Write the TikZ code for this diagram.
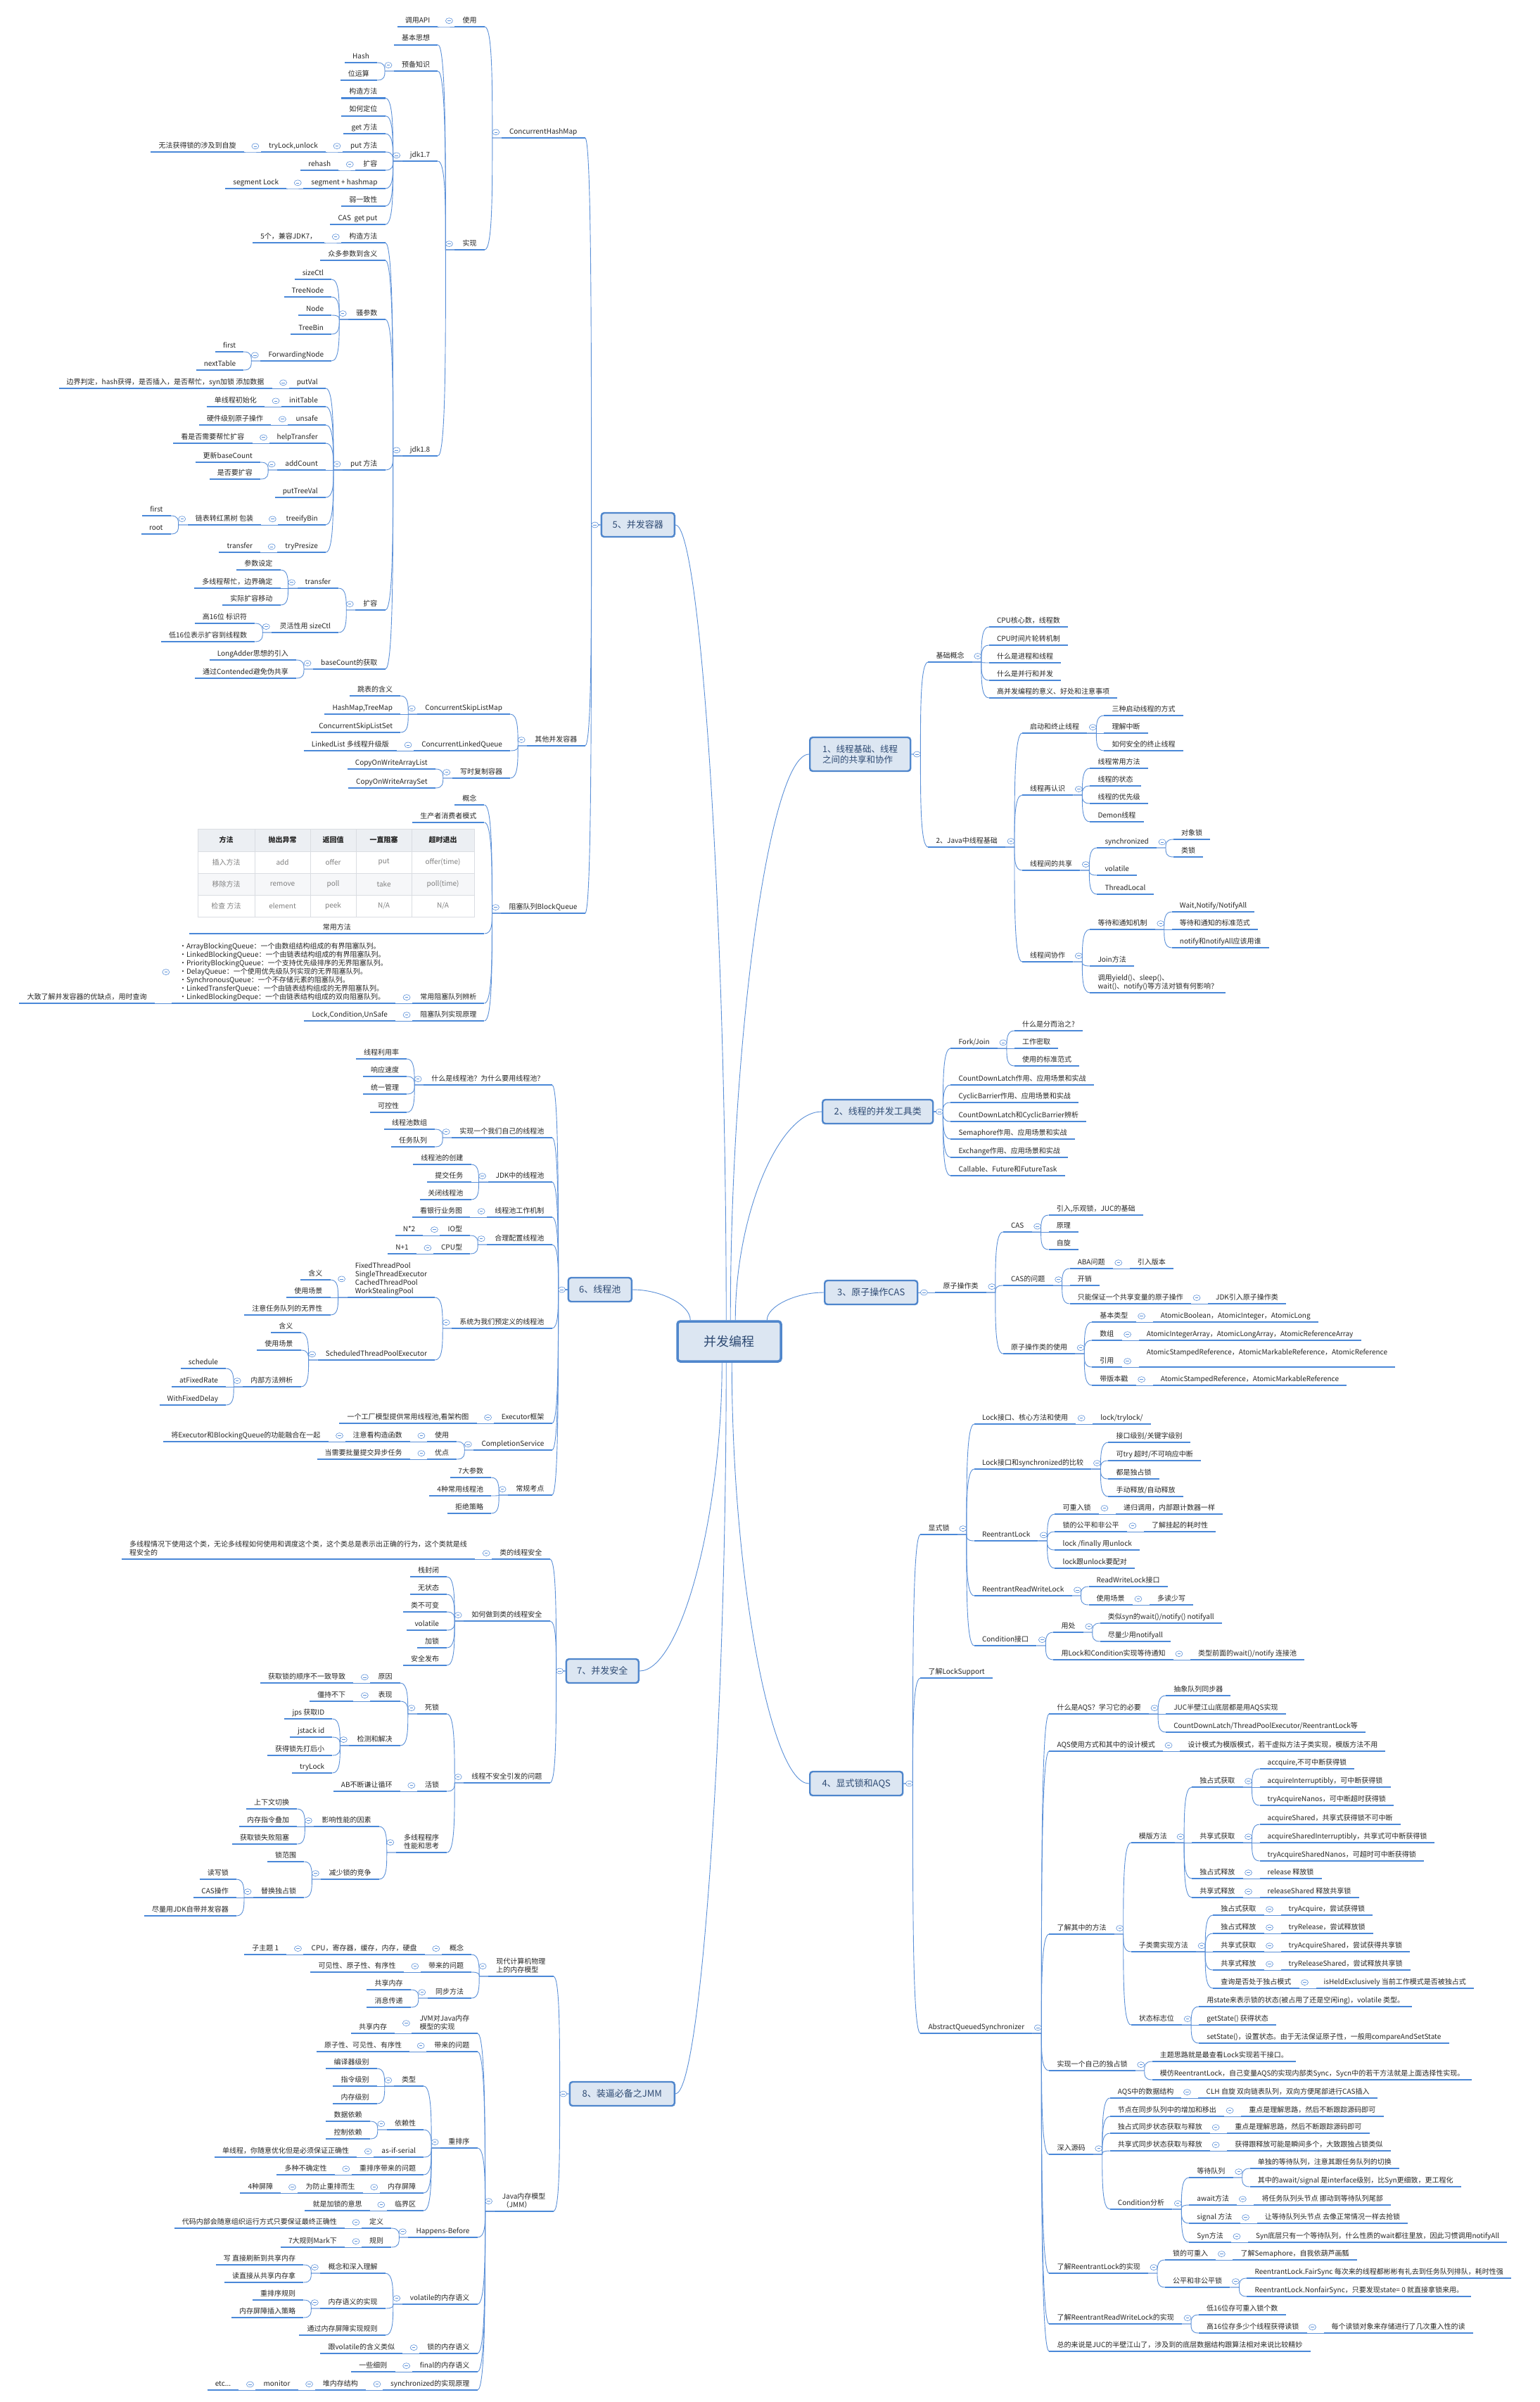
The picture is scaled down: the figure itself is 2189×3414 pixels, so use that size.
\documentclass[tikz,border=0pt]{standalone}
\usepackage{fontspec}
\setmainfont{Noto Sans CJK SC}
\usetikzlibrary{shapes.geometric,calc}
\definecolor{ulc}{HTML}{4A88D8}
\definecolor{cnc}{HTML}{5B90D8}
\definecolor{bxf}{HTML}{DCE6F2}
\definecolor{bxd}{HTML}{4F86CC}
\definecolor{bxt}{HTML}{2E4A73}
\definecolor{txc}{HTML}{262626}
\definecolor{tbh}{HTML}{ECEFF3}
\definecolor{tbg}{HTML}{F6F7F9}
\definecolor{tbl}{HTML}{DADDE2}
\newcommand\mystrut{\rule[-3pt]{0pt}{9pt}}
\newcommand\fs{\fontsize{10}{12}\selectfont}
\tikzset{
 x=1pt,y=-1pt,
 lf/.style={font=\fs,text=txc,inner xsep=11pt,inner ysep=2.5pt,execute at begin node=\mystrut},
 ml/.style={align=left},
 ul/.style={draw=ulc,line width=2.2pt},
 cn/.style={draw=cnc,line width=0.9pt},
 coll/.style={ellipse,draw=cnc,line width=0.6pt,fill=white,minimum width=10pt,minimum height=8pt,inner sep=0pt,
   path picture={\draw[cnc,line width=0.6pt] ([xshift=-2.2pt]path picture bounding box.center) -- ([xshift=2.2pt]path picture bounding box.center);}},
 bx/.style={draw=bxd,line width=2.4pt,fill=bxf,rounded corners=4pt,text=bxt,font=\fontsize{13}{16}\selectfont,inner xsep=9pt,minimum height=34pt},
 lbr/.style={to path={let \p1=(\tikztostart),\p2=(\tikztotarget) in -- (\x1-13pt,\y1) .. controls (\x1-13pt,{\y1+0.5*(\y2-\y1)}) and (\x1-13pt,\y2) .. (\tikztotarget)}},
 rbr/.style={to path={let \p1=(\tikztostart),\p2=(\tikztotarget) in -- (\x1+13pt,\y1) .. controls (\x1+13pt,{\y1+0.5*(\y2-\y1)}) and (\x1+13pt,\y2) .. (\tikztotarget)}},
 cbr/.style={to path={let \p1=(\tikztostart),\p2=(\tikztotarget) in .. controls (\x1,{\y1+0.5*(\y2-\y1)}) and ({\x2+0.5*(\x1-\x2)},\y2) .. (\tikztotarget)}},
 th/.style={font=\fontsize{10}{12}\selectfont\bfseries,text=txc},
 td/.style={font=\fontsize{10}{12}\selectfont,text=black!50},
}
% left child of a leaf
\newcommand\mkL[5][]{\path (#3.south west) ++(-24pt,0) coordinate (tmp);
 \node[lf,anchor=south east,#1] (#2) at (tmp |- 0,#4) {#5};
 \draw[ul] (#2.south west) -- (#2.south east);
 \draw[cn] (#3.south west) to[lbr] (#2.south east);}
% left child of a box
\newcommand\mkLB[5][]{\path (#3.west) ++(-22pt,0) coordinate (tmp);
 \node[lf,anchor=south east,#1] (#2) at (tmp |- 0,#4) {#5};
 \draw[ul] (#2.south west) -- (#2.south east);
 \draw[cn] (#3.west) to[lbr] (#2.south east);}
% right child of a leaf
\newcommand\mkR[5][]{\path (#3.south east) ++(24pt,0) coordinate (tmp);
 \node[lf,anchor=south west,#1] (#2) at (tmp |- 0,#4) {#5};
 \draw[ul] (#2.south west) -- (#2.south east);
 \draw[cn] (#3.south east) to[rbr] (#2.south west);}
% right child of a box
\newcommand\mkRB[5][]{\path (#3.east) ++(24pt,0) coordinate (tmp);
 \node[lf,anchor=south west,#1] (#2) at (tmp |- 0,#4) {#5};
 \draw[ul] (#2.south west) -- (#2.south east);
 \draw[cn] (#3.east) to[rbr] (#2.south west);}
\newcommand\ccL[1]{\node[coll] (#1-c) at ([xshift=-8pt]#1.west) {};}
\newcommand\ccR[1]{\node[coll] (#1-c) at ([xshift=8pt]#1.east) {};}
\begin{document}
\begin{tikzpicture}
\fill[white] (0,0) rectangle (2189,3414);
\useasboundingbox (0,0) rectangle (2189,3414);

% ---------- centre and main boxes
\node[bx,minimum width=147pt,minimum height=57pt,line width=3.5pt,font=\fontsize{18}{22}\selectfont] (c) at (1036.5,1906.5) {并发编程};
\node[bx,anchor=east,minimum width=104pt] (b5) at (960,746) {5、并发容器};
\node[bx,anchor=east,minimum width=90pt] (b6) at (899,1833) {6、线程池};
\node[bx,anchor=east,minimum width=103pt] (b7) at (909,2375) {7、并发安全};
\node[bx,anchor=east,minimum width=149pt] (b8) at (960,2976) {8、装逼必备之JMM};
\node[bx,anchor=west,minimum width=143pt,minimum height=48pt,align=left,font=\fontsize{12.5}{14.5}\selectfont] (b1) at (1150,1072) {1、线程基础、线程\\之间的共享和协作};
\node[bx,anchor=west,minimum width=157pt] (b2) at (1168,1580) {2、线程的并发工具类};
\node[bx,anchor=west,minimum width=132pt] (b3) at (1171,1837) {3、原子操作CAS};
\node[bx,anchor=west,minimum width=132pt] (b4) at (1150,2535) {4、显式锁和AQS};

\coordinate (s5) at ($(c.north west)+(71,0)$);
\coordinate (s6) at ($(c.north west)+(20,0)$);
\coordinate (s7) at ($(c.south west)+(65,0)$);
\coordinate (s8) at ($(c.south west)+(71,0)$);
\coordinate (s1) at ($(c.north west)+(77,0)$);
\coordinate (s2) at ($(c.north west)+(84,0)$);
\coordinate (s3) at ($(c.north west)+(129,0)$);
\coordinate (s4) at ($(c.south west)+(79,0)$);
\draw[cn] (s5) to[cbr] (b5.east);
\draw[cn] (s6) to[cbr] (b6.east);
\draw[cn] (s7) to[cbr] (b7.east);
\draw[cn] (s8) to[cbr] (b8.east);
\draw[cn] (s1) to[cbr] (b1.west);
\draw[cn] (s2) to[cbr] (b2.west);
\draw[cn] (s3) to[cbr] (b3.west);
\draw[cn] (s4) to[cbr] (b4.west);

% ---------- 5 并发容器
\mkLB{chm}{b5}{196}{ConcurrentHashMap}
\mkL{use}{chm}{38}{使用}
\mkL{api}{use}{38}{调用API}
\mkL{impl}{chm}{355}{实现}
\mkL{basic}{impl}{63.6}{基本思想}
\mkL{prep}{impl}{101}{预备知识}
\mkL{hash}{prep}{89}{Hash}
\mkL{bitop}{prep}{114}{位运算}
\mkL{jA}{impl}{229}{jdk1.7}
\mkL{jAa}{jA}{139.5}{构造方法}
\mkL{jAb}{jA}{164.6}{如何定位}
\mkL{jAc}{jA}{190}{get 方法}
\mkL{jAd}{jA}{216}{put 方法}
\mkL{jAdA}{jAd}{216}{tryLock,unlock}
\mkL{jAdB}{jAdA}{216}{无法获得锁的涉及到自旋}
\mkL{jAe}{jA}{242}{扩容}
\mkL{jAeA}{jAe}{242}{rehash}
\mkL{jAf}{jA}{268}{segment + hashmap}
\mkL{jAfA}{jAf}{268}{segment Lock}
\mkL{jAg}{jA}{293}{弱一致性}
\mkL{jAh}{jA}{319}{CAS~ get put}
\mkL{jB}{impl}{648}{jdk1.8}
\mkL{jBa}{jB}{345}{构造方法}
\mkL{jBaA}{jBa}{345}{5个，兼容JDK7，}
\mkL{jBb}{jB}{370}{众多参数到含义}
\mkL{jBc}{jB}{454}{骚参数}
\mkL{jBcA}{jBc}{397}{sizeCtl}
\mkL{jBcB}{jBc}{422}{TreeNode}
\mkL{jBcC}{jBc}{448}{Node}
\mkL{jBcD}{jBc}{475}{TreeBin}
\mkL{jBcE}{jBc}{513}{ForwardingNode}
\mkL{jBcEa}{jBcE}{500}{first}
\mkL{jBcEb}{jBcE}{526}{nextTable}
\mkL{jBd}{jB}{668}{put 方法}
\mkL{pA}{jBd}{552}{putVal}
\mkL{pAa}{pA}{552}{边界判定，hash获得，是否插入，是否帮忙，syn加锁 添加数据}
\mkL{pB}{jBd}{578}{initTable}
\mkL{pBa}{pB}{578}{单线程初始化}
\mkL{pC}{jBd}{604}{unsafe}
\mkL{pCa}{pC}{604}{硬件级别原子操作}
\mkL{pD}{jBd}{630}{helpTransfer}
\mkL{pDa}{pD}{630}{看是否需要帮忙扩容}
\mkL{pE}{jBd}{668}{addCount}
\mkL{pEa}{pE}{657}{更新baseCount}
\mkL{pEb}{pE}{681}{是否要扩容}
\mkL{pF}{jBd}{707}{putTreeVal}
\mkL{pG}{jBd}{746}{treeifyBin}
\mkL{pGa}{pG}{746}{链表转红黑树 包装}
\mkL{pGaA}{pGa}{733}{first}
\mkL{pGaB}{pGa}{759}{root}
\mkL{pH}{jBd}{785}{tryPresize}
\mkL{pHa}{pH}{785}{transfer}
\mkL{jBe}{jB}{867}{扩容}
\mkL{eA}{jBe}{836}{transfer}
\mkL{eAa}{eA}{810}{参数设定}
\mkL{eAb}{eA}{836}{多线程帮忙，边界确定}
\mkL{eAc}{eA}{860}{实际扩容移动}
\mkL{eB}{jBe}{899}{灵活性用 sizeCtl}
\mkL{eBa}{eB}{886}{高16位 标识符}
\mkL{eBb}{eB}{912}{低16位表示扩容到线程数}
\mkL{jBf}{jB}{951}{baseCount的获取}
\mkL{fA}{jBf}{938}{LongAdder思想的引入}
\mkL{fB}{jBf}{964}{通过Contended避免伪共享}
\mkLB{oth}{b5}{1060}{其他并发容器}
\mkL{oA}{oth}{1015}{ConcurrentSkipListMap}
\mkL{oAa}{oA}{989}{跳表的含义}
\mkL{oAb}{oA}{1015}{HashMap,TreeMap}
\mkL{oAc}{oA}{1041}{ConcurrentSkipListSet}
\mkL{oB}{oth}{1067}{ConcurrentLinkedQueue}
\mkL{oBa}{oB}{1067}{LinkedList 多线程升级版}
\mkL{oC}{oth}{1106}{写时复制容器}
\mkL{oCa}{oC}{1093}{CopyOnWriteArrayList}
\mkL{oCb}{oC}{1120}{CopyOnWriteArraySet}
\mkLB{bq}{b5}{1298}{阻塞队列BlockQueue}
\mkL{qA}{bq}{1144}{概念}
\mkL{qB}{bq}{1169}{生产者消费者模式}
\mkL[minimum width=419pt]{qC}{bq}{1327}{常用方法}
\mkL{qD}{bq}{1426}{常用阻塞队列辨析}
\mkL[ml]{qDa}{qD}{1426}{·ArrayBlockingQueue：一个由数组结构组成的有界阻塞队列。\\·LinkedBlockingQueue：一个由链表结构组成的有界阻塞队列。\\·PriorityBlockingQueue：一个支持优先级排序的无界阻塞队列。\\·DelayQueue：一个使用优先级队列实现的无界阻塞队列。\\·SynchronousQueue：一个不存储元素的阻塞队列。\\·LinkedTransferQueue：一个由链表结构组成的无界阻塞队列。\\·LinkedBlockingDeque：一个由链表结构组成的双向阻塞队列。}
\mkL{qDaA}{qDa}{1426}{大致了解并发容器的优缺点，用时查询}
\mkL{qE}{bq}{1451}{阻塞队列实现原理}
\mkL{qEa}{qE}{1451}{Lock,Condition,UnSafe}

% table of queue methods
\begin{scope}[shift={(qC.south west)}]
 \fill[tbh] (12,-149) rectangle (405,-117);
 \fill[tbg] (12,-86) rectangle (405,-55);
 \draw[tbl,line width=0.8pt] (12,-149) rectangle (405,-24);
 \foreach \yy in {-117,-86,-55} \draw[tbl,line width=0.8pt] (12,\yy) -- (405,\yy);
 \foreach \xx in {93,172,237,316} \draw[tbl,line width=0.8pt] (\xx,-149) -- (\xx,-24);
 \node[th] (tbA1) at (52.5,-133) {方法};
 \node[th] (tbA2) at (132.5,-133) {抛出异常};
 \node[th] (tbA3) at (204.5,-133) {返回值};
 \node[th] (tbA4) at (276.5,-133) {一直阻塞};
 \node[th] (tbA5) at (360.5,-133) {超时退出};
 \node[td] (tbB1) at (52.5,-101.5) {插入方法};
 \node[td] (tbB2) at (132.5,-101.5) {add};
 \node[td] (tbB3) at (204.5,-101.5) {offer};
 \node[td] (tbB4) at (276.5,-101.5) {put};
 \node[td] (tbB5) at (360.5,-101.5) {offer(time)};
 \node[td] (tbC1) at (52.5,-70.5) {移除方法};
 \node[td] (tbC2) at (132.5,-70.5) {remove};
 \node[td] (tbC3) at (204.5,-70.5) {poll};
 \node[td] (tbC4) at (276.5,-70.5) {take};
 \node[td] (tbC5) at (360.5,-70.5) {poll(time)};
 \node[td] (tbD1) at (52.5,-39.5) {检查 方法};
 \node[td] (tbD2) at (132.5,-39.5) {element};
 \node[td] (tbD3) at (204.5,-39.5) {peek};
 \node[td] (tbD4) at (276.5,-39.5) {N/A};
 \node[td] (tbD5) at (360.5,-39.5) {N/A};
\end{scope}

% ---------- 6 线程池
\mkLB{tA}{b6}{1542}{什么是线程池？为什么要用线程池？}
\mkL{tAa}{tA}{1505}{线程利用率}
\mkL{tAb}{tA}{1530}{响应速度}
\mkL{tAc}{tA}{1555}{统一管理}
\mkL{tAd}{tA}{1581}{可控性}
\mkLB{tB}{b6}{1617}{实现一个我们自己的线程池}
\mkL{tBa}{tB}{1605}{线程池数组}
\mkL{tBb}{tB}{1630}{任务队列}
\mkLB{tC}{b6}{1680}{JDK中的线程池}
\mkL{tCa}{tC}{1655}{线程池的创建}
\mkL{tCb}{tC}{1680}{提交任务}
\mkL{tCc}{tC}{1705}{关闭线程池}
\mkLB{tD}{b6}{1730}{线程池工作机制}
\mkL{tDa}{tD}{1730}{看银行业务图}
\mkLB{tE}{b6}{1769}{合理配置线程池}
\mkL{tEa}{tE}{1756}{IO型}
\mkL{tEaA}{tEa}{1756}{N*2}
\mkL{tEb}{tE}{1782}{CPU型}
\mkL{tEbA}{tEb}{1782}{N+1}
\mkLB{tF}{b6}{1888}{系统为我们预定义的线程池}
\mkL[ml]{tFa}{tF}{1844}{FixedThreadPool\\SingleThreadExecutor\\CachedThreadPool\\WorkStealingPool}
\mkL{tFaA}{tFa}{1819}{含义}
\mkL{tFaB}{tFa}{1844}{使用场景}
\mkL{tFaC}{tFa}{1869}{注意任务队列的无界性}
\mkL{tFb}{tF}{1933}{ScheduledThreadPoolExecutor}
\mkL{tFbA}{tFb}{1894}{含义}
\mkL{tFbB}{tFb}{1919}{使用场景}
\mkL{tFbC}{tFb}{1971}{内部方法辨析}
\mkL{tFbCa}{tFbC}{1945}{schedule}
\mkL{tFbCb}{tFbC}{1971}{atFixedRate}
\mkL{tFbCc}{tFbC}{1997}{WithFixedDelay}
\mkLB{tG}{b6}{2023}{Executor框架}
\mkL{tGa}{tG}{2023}{一个工厂模型提供常用线程池,看架构图}
\mkLB{tH}{b6}{2061}{CompletionService}
\mkL{tHa}{tH}{2049}{使用}
\mkL{tHaA}{tHa}{2049}{注意看构造函数}
\mkL{tHaB}{tHaA}{2049}{将Executor和BlockingQueue的功能融合在一起}
\mkL{tHb}{tH}{2074}{优点}
\mkL{tHbA}{tHb}{2074}{当需要批量提交异步任务}
\mkLB{tI}{b6}{2125}{常规考点}
\mkL{tIa}{tI}{2100}{7大参数}
\mkL{tIb}{tI}{2126}{4种常用线程池}
\mkL{tIc}{tI}{2151}{拒绝策略}

% ---------- 7 并发安全
\mkLB{sA}{b7}{2216}{类的线程安全}
\mkL[ml]{sAa}{sA}{2216}{多线程情况下使用这个类，无论多线程如何使用和调度这个类，这个类总是表示出正确的行为，这个类就是线\\程安全的}
\mkLB{sB}{b7}{2304}{如何做到类的线程安全}
\mkL{sBa}{sB}{2241}{栈封闭}
\mkL{sBb}{sB}{2266}{无状态}
\mkL{sBc}{sB}{2291}{类不可变}
\mkL{sBd}{sB}{2317}{volatile}
\mkL{sBe}{sB}{2342}{加锁}
\mkL{sBf}{sB}{2367}{安全发布}
\mkLB{sC}{b7}{2534}{线程不安全引发的问题}
\mkL{sCa}{sC}{2436}{死锁}
\mkL{sCaA}{sCa}{2392}{原因}
\mkL{sCaAa}{sCaA}{2392}{获取锁的顺序不一致导致}
\mkL{sCaB}{sCa}{2418}{表现}
\mkL{sCaBa}{sCaB}{2418}{僵持不下}
\mkL{sCaC}{sCa}{2481}{检测和解决}
\mkL{sCaCa}{sCaC}{2443}{jps 获取ID}
\mkL{sCaCb}{sCaC}{2469}{jstack id}
\mkL{sCaCc}{sCaC}{2495}{获得锁先打后小}
\mkL{sCaCd}{sCaC}{2520}{tryLock}
\mkL{sCb}{sC}{2546}{活锁}
\mkL{sCbA}{sCb}{2546}{AB不断谦让循环}
\mkL[ml]{sCc}{sC}{2633}{多线程程序\\性能和思考}
\mkL{sCcA}{sCc}{2596}{影响性能的因素}
\mkL{sCcAa}{sCcA}{2571}{上下文切换}
\mkL{sCcAb}{sCcA}{2596}{内存指令叠加}
\mkL{sCcAc}{sCcA}{2621}{获取锁失败阻塞}
\mkL{sCcB}{sCc}{2671}{减少锁的竞争}
\mkL{sCcBa}{sCcB}{2646}{锁范围}
\mkL{sCcBb}{sCcB}{2697}{替换独占锁}
\mkL{sCcBba}{sCcBb}{2671}{读写锁}
\mkL{sCcBbb}{sCcBb}{2697}{CAS操作}
\mkL{sCcBbc}{sCcBb}{2723}{尽量用JDK自带并发容器}

% ---------- 8 JMM
\mkLB[ml]{mA}{b8}{2809}{现代计算机物理\\上的内存模型}
\mkL{mAa}{mA}{2778}{概念}
\mkL{mAaA}{mAa}{2778}{CPU，寄存器，缓存，内存，硬盘}
\mkL{mAaB}{mAaA}{2778}{子主题 1}
\mkL{mAb}{mA}{2803}{带来的问题}
\mkL{mAbA}{mAb}{2803}{可见性、原子性、有序性}
\mkL{mAc}{mA}{2840}{同步方法}
\mkL{mAcA}{mAc}{2828}{共享内存}
\mkL{mAcB}{mAc}{2853}{消息传递}
\mkLB[ml]{mB}{b8}{3143}{Java内存模型\\（JMM）}
\mkL[ml]{mBa}{mB}{2890}{JVM对Java内存\\模型的实现}
\mkL{mBaA}{mBa}{2890}{共享内存}
\mkL{mBb}{mB}{2916}{带来的问题}
\mkL{mBbA}{mBb}{2916}{原子性、可见性、有序性}
\mkL{mBc}{mB}{3053}{重排序}
\mkL{mBcA}{mBc}{2965}{类型}
\mkL{mBcAa}{mBcA}{2940}{编译器级别}
\mkL{mBcAb}{mBcA}{2965}{指令级别}
\mkL{mBcAc}{mBcA}{2990}{内存级别}
\mkL{mBcB}{mBc}{3027}{依赖性}
\mkL{mBcBa}{mBcB}{3015}{数据依赖}
\mkL{mBcBb}{mBcB}{3040}{控制依赖}
\mkL{mBcC}{mBc}{3066}{as-if-serial}
\mkL{mBcCa}{mBcC}{3066}{单线程，你随意优化但是必须保证正确性}
\mkL{mBcD}{mBc}{3091}{重排序带来的问题}
\mkL{mBcDa}{mBcD}{3091}{多种不确定性}
\mkL{mBcE}{mBc}{3117}{内存屏障}
\mkL{mBcEa}{mBcE}{3117}{为防止重排而生}
\mkL{mBcEb}{mBcEa}{3117}{4种屏障}
\mkL{mBcF}{mBc}{3142}{临界区}
\mkL{mBcFa}{mBcF}{3142}{就是加锁的意思}
\mkL{mBd}{mB}{3180}{Happens-Before}
\mkL{mBdA}{mBd}{3167}{定义}
\mkL{mBdAa}{mBdA}{3167}{代码内部会随意组织运行方式只要保证最终正确性}
\mkL{mBdB}{mBd}{3194}{规则}
\mkL{mBdBa}{mBdB}{3194}{7大规则Mark下}
\mkL{mBe}{mB}{3275}{volatile的内存语义}
\mkL{mBeA}{mBe}{3231}{概念和深入理解}
\mkL{mBeAa}{mBeA}{3219}{写 直接刷新到共享内存}
\mkL{mBeAb}{mBeA}{3244}{读直接从共享内存拿}
\mkL{mBeB}{mBe}{3281}{内存语义的实现}
\mkL{mBeBa}{mBeB}{3269}{重排序规则}
\mkL{mBeBb}{mBeB}{3294}{内存屏障插入策略}
\mkL{mBeC}{mBe}{3319}{通过内存屏障实现规则}
\mkL{mBf}{mB}{3345}{锁的内存语义}
\mkL{mBfA}{mBf}{3345}{跟volatile的含义类似}
\mkL{mBg}{mB}{3371}{final的内存语义}
\mkL{mBgA}{mBg}{3371}{一些细则}
\mkL{mBh}{mB}{3397}{synchronized的实现原理}
\mkL{mBhA}{mBh}{3397}{堆内存结构}
\mkL{mBhB}{mBhA}{3397}{monitor}
\mkL{mBhC}{mBhB}{3397}{etc...}

% ---------- 1 线程基础
\mkRB{rA}{b1}{941}{基础概念}
\mkR{rAa}{rA}{891}{CPU核心数，线程数}
\mkR{rAb}{rA}{917}{CPU时间片轮转机制}
\mkR{rAc}{rA}{942}{什么是进程和线程}
\mkR{rAd}{rA}{967}{什么是并行和并发}
\mkR{rAe}{rA}{992}{高并发编程的意义、好处和注意事项}
\mkRB{rB}{b1}{1204}{2、Java中线程基础}
\mkR{rBa}{rB}{1042}{启动和终止线程}
\mkR{rBaA}{rBa}{1017}{三种启动线程的方式}
\mkR{rBaB}{rBa}{1042}{理解中断}
\mkR{rBaC}{rBa}{1067}{如何安全的终止线程}
\mkR{rBb}{rB}{1130}{线程再认识}
\mkR{rBbA}{rBb}{1092}{线程常用方法}
\mkR{rBbB}{rBb}{1117}{线程的状态}
\mkR{rBbC}{rBb}{1142}{线程的优先级}
\mkR{rBbD}{rBb}{1168}{Demon线程}
\mkR{rBc}{rB}{1237}{线程间的共享}
\mkR{rBcA}{rBc}{1205}{synchronized}
\mkR{rBcAa}{rBcA}{1193}{对象锁}
\mkR{rBcAb}{rBcA}{1218}{类锁}
\mkR{rBcB}{rBc}{1244}{volatile}
\mkR{rBcC}{rBc}{1271}{ThreadLocal}
\mkR{rBd}{rB}{1367}{线程间协作}
\mkR{rBdA}{rBd}{1321}{等待和通知机制}
\mkR{rBdAa}{rBdA}{1296}{Wait,Notify/NotifyAll}
\mkR{rBdAb}{rBdA}{1321}{等待和通知的标准范式}
\mkR{rBdAc}{rBdA}{1347}{notify和notifyAll应该用谁}
\mkR{rBdB}{rBd}{1373}{Join方法}
\mkR[ml]{rBdC}{rBd}{1411}{调用yield()、sleep()、\\wait()、notify()等方法对锁有何影响？}

% ---------- 2 并发工具类
\mkRB{uA}{b2}{1490}{Fork/Join}
\mkR{uAa}{uA}{1465}{什么是分而治之?}
\mkR{uAb}{uA}{1490}{工作密取}
\mkR{uAc}{uA}{1515}{使用的标准范式}
\mkRB{uB}{b2}{1542}{CountDownLatch作用、应用场景和实战}
\mkRB{uC}{b2}{1567}{CyclicBarrier作用、应用场景和实战}
\mkRB{uD}{b2}{1594}{CountDownLatch和CyclicBarrier辨析}
\mkRB{uE}{b2}{1619}{Semaphore作用、应用场景和实战}
\mkRB{uF}{b2}{1645}{Exchange作用、应用场景和实战}
\mkRB{uG}{b2}{1671}{Callable、Future和FutureTask}

% ---------- 3 CAS
\mkRB{vA}{b3}{1837}{原子操作类}
\mkR{vAa}{vA}{1751}{CAS}
\mkR{vAaA}{vAa}{1727}{引入,乐观锁，JUC的基础}
\mkR{vAaB}{vAa}{1751}{原理}
\mkR{vAaC}{vAa}{1776}{自旋}
\mkR{vAb}{vA}{1827}{CAS的问题}
\mkR{vAbA}{vAb}{1803}{ABA问题}
\mkR{vAbAa}{vAbA}{1803}{引入版本}
\mkR{vAbB}{vAb}{1827}{开销}
\mkR{vAbC}{vAb}{1853}{只能保证一个共享变量的原子操作}
\mkR{vAbCa}{vAbC}{1853}{JDK引入原子操作类}
\mkR{vAc}{vA}{1924}{原子操作类的使用}
\mkR{vAcA}{vAc}{1879}{基本类型}
\mkR{vAcAa}{vAcA}{1879}{AtomicBoolean，AtomicInteger，AtomicLong}
\mkR{vAcB}{vAc}{1905}{数组}
\mkR{vAcBa}{vAcB}{1905}{AtomicIntegerArray，AtomicLongArray，AtomicReferenceArray}
\mkR{vAcC}{vAc}{1943}{引用}
\mkR[ml]{vAcCa}{vAcC}{1943}{AtomicStampedReference，AtomicMarkableReference，AtomicReference\\ \mbox{}}
\mkR{vAcD}{vAc}{1969}{带版本戳}
\mkR{vAcDa}{vAcD}{1969}{AtomicStampedReference，AtomicMarkableReference}

% ---------- 4 显式锁和AQS
\mkRB{wA}{b4}{2181}{显式锁}
\mkR{wAa}{wA}{2024}{Lock接口、核心方法和使用}
\mkR{wAaA}{wAa}{2024}{lock/trylock/}
\mkR{wAb}{wA}{2088}{Lock接口和synchronized的比较}
\mkR{wAbA}{wAb}{2050}{接口级别/关键字级别}
\mkR{wAbB}{wAb}{2076}{可try 超时/不可响应中断}
\mkR{wAbC}{wAb}{2102}{都是独占锁}
\mkR{wAbD}{wAb}{2127}{手动释放/自动释放}
\mkR{wAc}{wA}{2190}{ReentrantLock}
\mkR{wAcA}{wAc}{2152}{可重入锁}
\mkR{wAcAa}{wAcA}{2152}{递归调用，内部跟计数器一样}
\mkR{wAcB}{wAc}{2177}{锁的公平和非公平}
\mkR{wAcBa}{wAcB}{2177}{了解挂起的耗时性}
\mkR{wAcC}{wAc}{2203}{lock /finally 用unlock}
\mkR{wAcD}{wAc}{2229}{lock跟unlock要配对}
\mkR{wAd}{wA}{2268}{ReentrantReadWriteLock}
\mkR{wAdA}{wAd}{2255}{ReadWriteLock接口}
\mkR{wAdB}{wAd}{2281}{使用场景}
\mkR{wAdBa}{wAdB}{2281}{多读少写}
\mkR{wAe}{wA}{2339}{Condition接口}
\mkR{wAeA}{wAe}{2320}{用处}
\mkR{wAeAa}{wAeA}{2307}{类似syn的wait()/notify() notifyall}
\mkR{wAeAb}{wAeA}{2333}{尽量少用notifyall}
\mkR{wAeB}{wAe}{2359}{用Lock和Condition实现等待通知}
\mkR{wAeBa}{wAeB}{2359}{类型前面的wait()/notify 连接池}
\mkRB{wB}{b4}{2385}{了解LockSupport}
\mkRB{wC}{b4}{2890}{AbstractQueuedSynchronizer}
\mkR{wCa}{wC}{2436}{什么是AQS？学习它的必要}
\mkR{wCaA}{wCa}{2410}{抽象队列同步器}
\mkR{wCaB}{wCa}{2436}{JUC半壁江山底层都是用AQS实现}
\mkR{wCaC}{wCa}{2462}{CountDownLatch/ThreadPoolExecutor/ReentrantLock等}
\mkR{wCb}{wC}{2489}{AQS使用方式和其中的设计模式}
\mkR{wCbA}{wCb}{2489}{设计模式为模版模式，若干虚拟方法子类实现，模版方法不用}
\mkR{wCc}{wC}{2749}{了解其中的方法}
\mkR{wCcA}{wCc}{2619}{模版方法}
\mkR{wCcAa}{wCcA}{2540}{独占式获取}
\mkR{wCcAaA}{wCcAa}{2514}{accquire,不可中断获得锁}
\mkR{wCcAaB}{wCcAa}{2540}{acquireInterruptibly，可中断获得锁}
\mkR{wCcAaC}{wCcAa}{2566}{tryAcquireNanos，可中断超时获得锁}
\mkR{wCcAb}{wCcA}{2619}{共享式获取}
\mkR{wCcAbA}{wCcAb}{2593}{acquireShared，共享式获得锁不可中断}
\mkR{wCcAbB}{wCcAb}{2619}{acquireSharedInterruptibly，共享式可中断获得锁}
\mkR{wCcAbC}{wCcAb}{2645}{tryAcquireSharedNanos，可超时可中断获得锁}
\mkR{wCcAc}{wCcA}{2670}{独占式释放}
\mkR{wCcAcA}{wCcAc}{2670}{release 释放锁}
\mkR{wCcAd}{wCcA}{2697}{共享式释放}
\mkR{wCcAdA}{wCcAd}{2697}{releaseShared 释放共享锁}
\mkR{wCcB}{wCc}{2774}{子类需实现方法}
\mkR{wCcBa}{wCcB}{2722}{独占式获取}
\mkR{wCcBaA}{wCcBa}{2722}{tryAcquire，尝试获得锁}
\mkR{wCcBb}{wCcB}{2748}{独占式释放}
\mkR{wCcBbA}{wCcBb}{2748}{tryRelease，尝试释放锁}
\mkR{wCcBc}{wCcB}{2774}{共享式获取}
\mkR{wCcBcA}{wCcBc}{2774}{tryAcquireShared，尝试获得共享锁}
\mkR{wCcBd}{wCcB}{2800}{共享式释放}
\mkR{wCcBdA}{wCcBd}{2800}{tryReleaseShared，尝试释放共享锁}
\mkR{wCcBe}{wCcB}{2826}{查询是否处于独占模式}
\mkR{wCcBeA}{wCcBe}{2826}{isHeldExclusively 当前工作模式是否被独占式}
\mkR{wCcC}{wCc}{2878}{状态标志位}
\mkR{wCcCa}{wCcC}{2852}{用state来表示锁的状态(被占用了还是空闲ing)，volatile 类型。}
\mkR{wCcCb}{wCcC}{2878}{getState() 获得状态}
\mkR{wCcCc}{wCcC}{2904}{setState()，设置状态。由于无法保证原子性，一般用compareAndSetState}
\mkR{wCd}{wC}{2943}{实现一个自己的独占锁}
\mkR{wCdA}{wCd}{2930}{主题思路就是最查看Lock实现若干接口。}
\mkR{wCdB}{wCd}{2956}{模仿ReentrantLock，自己变量AQS的实现内部类Sync，Sycn中的若干方法就是上面选择性实现。}
\mkR{wCe}{wC}{3062}{深入源码}
\mkR{wCeA}{wCe}{2982}{AQS中的数据结构}
\mkR{wCeAa}{wCeA}{2982}{CLH 自旋 双向链表队列，双向方便尾部进行CAS插入}
\mkR{wCeB}{wCe}{3008}{节点在同步队列中的增加和移出}
\mkR{wCeBa}{wCeB}{3008}{重点是理解思路，然后不断跟踪源码即可}
\mkR{wCeC}{wCe}{3032}{独占式同步状态获取与释放}
\mkR{wCeCa}{wCeC}{3032}{重点是理解思路，然后不断跟踪源码即可}
\mkR{wCeD}{wCe}{3057}{共享式同步状态获取与释放}
\mkR{wCeDa}{wCeD}{3057}{获得跟释放可能是瞬间多个，大致跟独占锁类似}
\mkR{wCeE}{wCe}{3140}{Condition分析}
\mkR{wCeEa}{wCeE}{3095}{等待队列}
\mkR{wCeEaA}{wCeEa}{3082}{单独的等待队列，注意其跟任务队列的切换}
\mkR{wCeEaB}{wCeEa}{3108}{其中的await/signal 是interface级别，比Syn更细致，更工程化}
\mkR{wCeEb}{wCeE}{3134}{await方法}
\mkR{wCeEbA}{wCeEb}{3134}{将任务队列头节点 挪动到等待队列尾部}
\mkR{wCeEc}{wCeE}{3160}{signal 方法}
\mkR{wCeEcA}{wCeEc}{3160}{让等待队列头节点 去像正常情况一样去抢锁}
\mkR{wCeEd}{wCeE}{3187}{Syn方法}
\mkR{wCeEdA}{wCeEd}{3187}{Syn底层只有一个等待队列，什么性质的wait都往里放，因此习惯调用notifyAll}
\mkR{wCf}{wC}{3231}{了解ReentrantLock的实现}
\mkR{wCfA}{wCf}{3212}{锁的可重入}
\mkR{wCfAa}{wCfA}{3212}{了解Semaphore，自我依葫芦画瓢}
\mkR{wCfB}{wCf}{3251}{公平和非公平锁}
\mkR{wCfBa}{wCfB}{3238}{ReentrantLock.FairSync 每次来的线程都彬彬有礼去到任务队列排队，耗时性强}
\mkR{wCfBb}{wCfB}{3264}{ReentrantLock.NonfairSync，只要发现state= 0 就直接拿锁来用。}
\mkR{wCg}{wC}{3303}{了解ReentrantReadWriteLock的实现}
\mkR{wCgA}{wCg}{3290}{低16位存可重入锁个数}
\mkR{wCgB}{wCg}{3316}{高16位存多少个线程获得读锁}
\mkR{wCgBa}{wCgB}{3316}{每个读锁对象来存储进行了几次重入性的读}
\mkR{wCh}{wC}{3342}{总的来说是JUC的半壁江山了，涉及到的底层数据结构跟算法相对来说比较精妙}

% ---------- collapse markers
\foreach \n in {b5,b6,b7,b8,chm,use,impl,prep,jA,jAd,jAdA,jAe,jAf,jB,jBa,jBc,jBcE,jBd,pA,pB,pC,pD,pE,pG,pGa,pH,jBe,eA,eB,jBf,oth,oA,oB,oC,bq,qD,qDa,qE,
  tA,tB,tC,tD,tE,tEa,tEb,tF,tFa,tFb,tFbC,tG,tH,tHa,tHaA,tHb,tI,
  sA,sB,sC,sCa,sCaA,sCaB,sCaC,sCb,sCc,sCcA,sCcB,sCcBb,
  mA,mAa,mAaA,mAb,mAc,mB,mBa,mBb,mBc,mBcA,mBcB,mBcC,mBcD,mBcE,mBcEa,mBcF,mBd,mBdA,mBdB,mBe,mBeA,mBeB,mBf,mBg,mBh,mBhA,mBhB}
  {\ccL{\n}}
\foreach \n in {b1,b2,b3,b4,rA,rB,rBa,rBb,rBc,rBcA,rBd,rBdA,uA,vA,vAa,vAb,vAbA,vAbC,vAc,vAcA,vAcB,vAcC,vAcD,
  wA,wAa,wAb,wAc,wAcA,wAcB,wAd,wAdB,wAe,wAeA,wAeB,wC,wCa,wCb,wCc,wCcA,wCcAa,wCcAb,wCcAc,wCcAd,wCcB,wCcBa,wCcBb,wCcBc,wCcBd,wCcBe,wCcC,
  wCd,wCe,wCeA,wCeB,wCeC,wCeD,wCeE,wCeEa,wCeEb,wCeEc,wCeEd,wCf,wCfA,wCfB,wCg,wCgB}
  {\ccR{\n}}
\end{tikzpicture}
\end{document}
